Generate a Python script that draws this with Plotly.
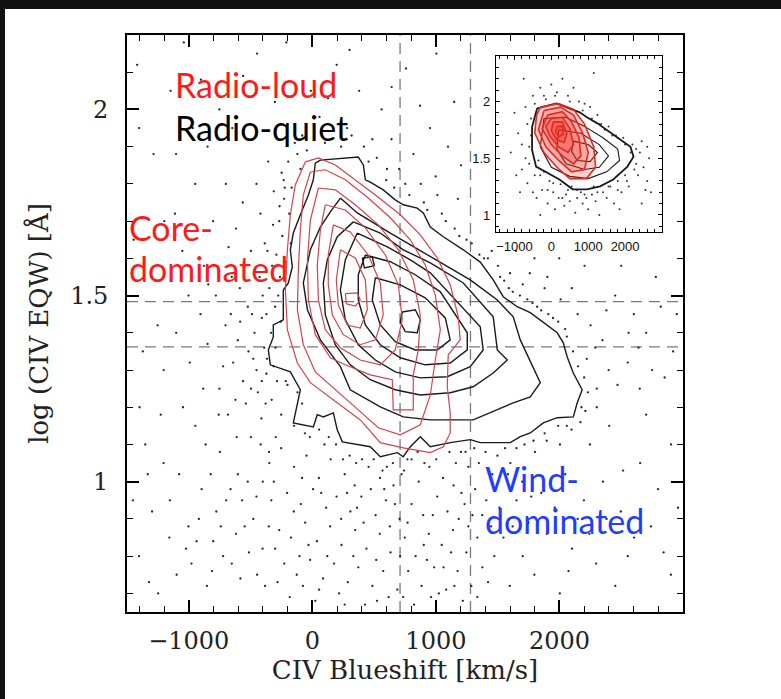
import plotly.graph_objects as go

# ---------------- axes / reference lines ----------------
x_range = [-1500, 3000]
y_range = [0.65, 2.2]
x_tick_vals = [-1000, 0, 1000, 2000]
y_tick_vals = [1, 1.5, 2]
y_tick_text = ["1", "1.5", "2"]
vline_x = [710, 1280]
hline_y = [1.484, 1.362]

inset_x_range = [-1500, 3000]
inset_y_range = [0.85, 2.4]
inset_x_ticks = [-1000, 0, 1000, 2000]
inset_y_ticks = [1, 1.5, 2]
inset_y_text = ["1", "1.5", "2"]

# ---------------- radio-quiet (black) contours ----------------
rq_level1 = [(24,1.856),(65,1.864),(372,1.872),(413,1.851),(429,1.811),(469,1.805),(574,1.784),
             (671,1.757),(736,1.744),(849,1.735),(898,1.722),(955,1.684),(1060,1.658),(1222,1.623),
             (1359,1.590),(1464,1.542),(1545,1.497),(1658,1.470),(1764,1.454),(1869,1.427),(1982,1.400),
             (2031,1.373),(2063,1.335),(2112,1.292),(2184,1.247),(2144,1.212),(2112,1.174),(1982,1.172),
             (1869,1.158),(1764,1.131),(1683,1.121),(1602,1.105),(1359,1.105),(1278,1.113),(1116,1.105),
             (955,1.094),(874,1.121),(793,1.094),(736,1.067),(688,1.078),(550,1.067),(469,1.094),
             (243,1.107),(202,1.139),(170,1.185),(89,1.174),(40,1.180),(8,1.147),(-154,1.158),
             (-97,1.247),(-178,1.295),(-340,1.314),(-356,1.354),(-316,1.389),(-316,1.421),(-235,1.435),
             (-235,1.515),(-194,1.534),(-162,1.577),(-178,1.623),(-154,1.668),(-97,1.717),(-32,1.770),
             (8,1.811)]
rq_level2 = [(227,1.762),(364,1.722),(631,1.668),(955,1.604),(1278,1.542),(1497,1.488),(1626,1.443),
             (1683,1.381),(1845,1.266),(1764,1.228),(1626,1.212),(1302,1.166),(955,1.166),(736,1.174),
             (550,1.201),(307,1.247),(227,1.309),(65,1.381),(-40,1.462),(-73,1.534),(-16,1.623),
             (65,1.684),(146,1.725)]
rq_level3 = [(332,1.698),(550,1.668),(736,1.623),(955,1.588),(1222,1.534),(1464,1.443),(1497,1.354),
             (1578,1.327),(1464,1.292),(1302,1.255),(1116,1.239),(874,1.233),(671,1.247),(469,1.274),
             (307,1.314),(186,1.368),(105,1.448),(89,1.534),(121,1.596),(202,1.658)]
rq_level4 = [(364,1.668),(607,1.631),(793,1.596),(955,1.561),(1359,1.416),(1383,1.354),(1278,1.309),
             (1092,1.282),(874,1.279),(671,1.295),(510,1.327),(372,1.368),(267,1.435),(227,1.515),
             (267,1.596)]
rq_level5 = [(429,1.609),(631,1.591),(833,1.556),(1036,1.510),(1254,1.400),(1254,1.354),(1116,1.319),
             (914,1.314),(712,1.333),(550,1.368),(429,1.421),(372,1.488),(372,1.556)]
rq_level6 = [(510,1.548),(712,1.529),(914,1.494),(1076,1.440),(1116,1.381),(1011,1.354),(833,1.354),
             (671,1.376),(550,1.421),(485,1.488)]
rq_level7 = [(728,1.456),(833,1.462),(874,1.435),(849,1.400),(752,1.403),(712,1.429)]
rq_level7b = [(405,1.601),(485,1.604),(502,1.580),(421,1.574)]

# ---------------- radio-loud (red) contours ----------------
rl_level1 = [(-57,1.859),(49,1.870),(186,1.851),(348,1.811),(510,1.770),(712,1.717),(874,1.663),
             (1011,1.601),(1116,1.529),(1181,1.443),(1197,1.381),(1100,1.341),(1092,1.255),(1116,1.185),
             (1116,1.131),(1060,1.094),(955,1.078),(736,1.091),(550,1.105),(388,1.166),(202,1.212),
             (-16,1.266),(-121,1.319),(-202,1.408),(-218,1.515),(-202,1.623),(-178,1.717),(-138,1.797)]
rl_level2 = [(-16,1.832),(105,1.838),(267,1.811),(453,1.762),(631,1.709),(793,1.650),(914,1.582),
             (995,1.502),(1036,1.408),(995,1.327),(955,1.233),(874,1.153),(712,1.126),(534,1.145),
             (372,1.193),(186,1.247),(24,1.295),(-73,1.368),(-121,1.462),(-113,1.569),(-97,1.676),
             (-73,1.770)]
rl_level3 = [(49,1.789),(186,1.784),(348,1.744),(534,1.690),(696,1.623),(817,1.542),(874,1.448),
             (858,1.354),(817,1.287),(817,1.193),(655,1.193),(647,1.274),(469,1.287),(267,1.314),
             (146,1.333),(24,1.395),(-32,1.488),(-40,1.596),(-16,1.703)]
rl_level4 = [(105,1.744),(267,1.730),(429,1.682),(591,1.609),(696,1.529),(728,1.435),(671,1.354),
             (550,1.314),(388,1.327),(227,1.360),(105,1.408),(49,1.488),(40,1.582),(65,1.676)]
rl_level5 = [(170,1.690),(307,1.671),(453,1.609),(550,1.534),(574,1.448),(510,1.381),(388,1.368),
             (251,1.395),(162,1.448),(129,1.529),(129,1.609)]
rl_level6 = [(227,1.623),(348,1.601),(429,1.542),(445,1.462),(388,1.413),(283,1.421),(210,1.475),
             (194,1.542)]
rl_level7 = [(267,1.505),(364,1.507),(388,1.488),(348,1.472),(275,1.478)]

# ---------------- individual objects (dots) ----------------
dot_points = [
    (-420,1.72),(-385,1.64),(-312,1.78),(-248,1.83),(-463,1.57),(-348,1.52),(-291,1.61),(-522,1.47),
    (-408,1.44),(-334,1.40),(-603,1.38),(-478,1.33),(-372,1.29),(-441,1.24),(-561,1.27),(-652,1.55),
    (-703,1.42),(-228,1.76),(-195,1.86),(-142,1.91),(-389,1.36),(-268,1.70),(-497,1.62),(-618,1.68),
    (-722,1.31),(-538,1.21),(-412,1.17),(-329,1.22),(-781,1.50),(-848,1.37),(-301,1.47),(-262,1.55),
    (-468,1.40),(-587,1.52),(-678,1.63),(-357,1.86),(-452,1.80),(-563,1.75),(-243,1.66),(-326,1.58),
    (-402,1.50),(-517,1.35),(-622,1.22),(-758,1.18),(-905,1.45),
    (-252,1.18),(-148,1.15),(-83,1.21),(-201,1.26),(-296,1.12),(-60,1.13),(-120,1.24),(-350,1.08),
    (-223,1.79),(-187,1.72),(-265,1.74),(-174,1.64),(-213,1.59),(-276,1.50),(-255,1.43),(-298,1.36),
    (-367,1.33),(-409,1.27),(-232,1.81),(-121,1.88),(-96,1.84),(-167,1.79),(-318,1.69),(-363,1.62),
    (-427,1.55),(-371,1.45),(-313,1.31),(-452,1.30),(-488,1.45),(-545,1.58),(-584,1.43),(-641,1.32),
    (-496,1.25),(-378,1.21),(-286,1.27),(-215,1.27),
    (-82,1.93),(58,1.98),(153,1.92),(281,1.95),(417,1.90),(522,1.87),(641,1.92),(703,1.84),
    (818,1.88),(952,1.95),(1098,1.90),(1203,1.85),(-303,2.02),(-648,1.95),(-902,2.08),(379,2.05),
    (758,2.11),(1004,2.15),(197,2.12),(-447,2.15),(1148,2.02),(561,2.00),(878,1.80),(1012,1.77),
    (-1103,1.88),
    (-45,1.89),(102,1.91),(233,1.90),(318,1.93),(455,1.86),(598,1.81),(662,1.79),(785,1.77),
    (930,1.73),(1080,1.70),(1190,1.66),(1290,1.64),(486,1.92),(-12,2.05),(127,2.03),(642,2.06),
    (301,2.16),(872,2.01),(-560,2.09),(-210,2.18),
    (604,1.84),(752,1.80),(903,1.75),(1048,1.72),(1152,1.68),(1248,1.65),(998,1.82),(1178,1.76),
    (1352,1.61),(1421,1.60),(1502,1.58),(1553,1.54),(1622,1.51),(1703,1.53),(1781,1.48),(1852,1.46),
    (1948,1.44),(2046,1.41),(2147,1.45),(2252,1.42),(2348,1.38),(2451,1.50),(2602,1.45),(1902,1.55),
    (1998,1.60),(2203,1.58),(1798,1.60),(1648,1.62),(1452,1.62),(2398,1.30),(2302,1.25),(2221,1.33),
    (2178,1.20),(2553,1.32),(2702,1.40),(2851,1.28),(1600,1.56),(2100,1.52),(2500,1.58),(2780,1.55),
    (2950,1.45),(2650,1.25),
    (1390,1.60),(1520,1.55),(1590,1.52),(1680,1.50),(1740,1.49),(1820,1.47),(1910,1.45),(1990,1.43),
    (2060,1.39),(2110,1.35),(2150,1.31),(2200,1.28),(2230,1.24),(2210,1.19),(2170,1.16),(1760,1.56),
    (1880,1.52),(2010,1.49),(2290,1.36),(2380,1.46),(2470,1.26),(2560,1.40),(2640,1.36),(2750,1.30),
    (2820,1.47),(2920,1.35),
    (1603,1.05),(1698,1.00),(1802,1.08),(1897,1.11),(2004,1.10),(2098,1.14),(2247,1.10),(2403,1.15),
    (1652,0.95),(1748,0.89),(1853,0.97),(2047,1.02),(2198,0.95),(2352,1.00),(2497,0.92),(2653,1.05),
    (2798,0.98),(1547,0.85),(1703,0.80),(1898,0.86),(2102,0.82),(2297,0.78),(2604,0.85),(2902,0.75),
    (1598,0.72),(1797,0.75),(2003,0.70),(2452,0.72),(2302,1.20),(2702,1.18),(2903,1.10),(1503,1.00),
    (2147,0.90),(2553,0.80),
    (-252,1.09),(-148,1.04),(-47,1.07),(53,1.01),(148,1.06),(262,1.02),(343,0.99),(455,1.04),
    (548,1.01),(657,0.99),(742,1.03),(861,1.00),(947,1.04),(1058,1.01),(1143,0.99),(1262,1.04),
    (1348,1.05),(1457,1.02),(-204,0.97),(-93,0.94),(6,0.98),(112,0.93),(196,0.96),(308,0.92),
    (397,0.96),(512,0.91),(596,0.95),(706,0.90),(803,0.94),(897,0.91),(1011,0.96),(1094,0.92),
    (1207,0.97),(1296,0.91),(1408,0.95),(-268,0.87),(-173,0.85),(-58,0.89),(37,0.84),(144,0.88),
    (236,0.83),(347,0.87),(438,0.82),(546,0.86),(633,0.81),(748,0.85),(836,0.80),(943,0.86),
    (1047,0.83),(1138,0.87),(1247,0.81),(1336,0.85),(1446,0.88),(-227,0.78),(-126,0.75),(-18,0.79),
    (87,0.74),(176,0.78),(287,0.73),(372,0.77),(486,0.72),(574,0.76),(688,0.71),(776,0.76),
    (884,0.72),(986,0.77),(1083,0.71),(1176,0.76),(1287,0.72),(1376,0.77),(-183,0.69),(24,0.68),
    (217,0.70),(426,0.67),(617,0.69),(823,0.67),(1024,0.70),(1218,0.68),
    (98,1.10),(302,1.07),(603,1.04),(907,1.05),(1203,1.08),(1498,1.07),(1652,1.09),(402,1.06),(803,1.06),
    (-20,1.12),(55,1.14),(133,1.12),(192,1.10),(248,1.06),(355,1.05),(497,1.06),(568,1.03),
    (652,1.05),(722,1.02),(770,1.06),(852,1.08),(1003,1.06),(1110,1.08),(1162,1.05),(1240,1.08),
    (1310,1.09),(1402,1.08),(1560,1.09),(1717,1.10),(1790,1.11),(1880,1.13),(1990,1.15),(2060,1.15),
    (-312,1.00),(-83,1.01),(72,0.97),(233,0.90),(281,0.97),(415,0.89),(473,0.98),(627,0.88),
    (668,0.94),(771,0.89),(927,0.79),(975,0.91),(1123,0.81),(1185,0.90),(1318,0.98),(1375,0.91),
    (1473,0.80),(-31,0.83),(-104,0.80),(121,0.80),(332,0.80),(517,0.79),(711,0.80),(902,0.83),
    (1062,0.77),(1263,0.88),(1422,0.73),(55,0.71),(262,0.67),(523,0.68),(735,0.69),(961,0.69),
    (1150,0.72),(1335,0.69),(-282,0.73),(-76,0.72),(-150,0.92),(362,0.93),(582,0.98),(1232,0.94),
    (1515,0.93),(1583,1.02),(1621,0.88),(1772,0.96),(1962,0.93),(2073,0.76),(2242,0.86),(2381,0.90),
    (2515,1.03),(2741,0.88),(2843,0.81),(2960,0.93),
    (-1403,0.80),(-1297,0.92),(-1204,1.05),(-1098,0.75),(-1003,0.88),(-947,1.15),(-896,0.98),(-853,0.72),
    (-802,0.84),(-748,1.08),(-697,0.95),(-652,0.78),(-603,1.02),(-548,0.88),(-497,1.12),(-452,0.96),
    (-403,0.82),(-348,1.05),(-1352,1.10),(-1248,0.70),(-1153,0.95),(-1047,1.20),(-978,0.78),(-883,1.25),
    (-777,0.92),(-683,1.18),(-582,0.74),(-478,0.90),(-383,0.72),(-332,0.95),(-618,0.86),(-722,0.80),
    (-822,1.02),(-918,0.90),(-1022,0.82),(-523,1.00),(-418,1.10),(-1203,1.30),(-1398,1.20),(-1102,1.40),
    (-1303,1.55),(-1198,1.70),(-1052,1.62),(-948,1.80),(-1402,1.95),(-1147,2.05),(-803,1.70),(-1002,1.50),
    (-878,1.58),(-1252,1.42),(-1447,1.65),(-752,2.00),
    (-1452,0.95),(-1372,1.35),(-1322,0.73),(-1157,0.85),(-1078,1.02),(-992,1.32),(-937,0.84),(-863,1.10),
    (-812,0.76),(-741,0.88),(-662,0.98),(-612,1.12),(-568,0.95),(-513,0.81),(-447,0.75),(-401,1.00),
    (-352,0.88),(-301,0.82),(-660,1.45),(-752,1.25),(-842,1.53),(-1227,1.18),(-1332,1.02),(-1112,1.72),
    (-967,1.95),(-1285,1.88),(-1418,2.12),(-1040,2.18),(-848,1.90),(-700,1.80),
]

# ---------------- inset panel ----------------
inset_rq_contours = [
    [(-385,1.939),(138,1.983),(770,1.904),(963,1.861),(1238,1.809),(1513,1.748),(1870,1.661),(2145,1.600),
     (2228,1.513),(2063,1.426),(1678,1.313),(1320,1.252),(963,1.226),(578,1.226),(220,1.313),(-138,1.374),
     (-413,1.426),(-523,1.574),(-523,1.774)],
    [(-200,1.85),(400,1.86),(900,1.78),(1400,1.68),(1800,1.58),(1850,1.48),(1500,1.38),(1000,1.32),
     (500,1.34),(0,1.42),(-300,1.60)],
    [(200,1.75),(800,1.72),(1300,1.62),(1550,1.52),(1300,1.42),(900,1.40),(400,1.45),(150,1.58)],
    [(600,1.65),(1000,1.62),(1250,1.55),(1050,1.47),(700,1.48),(550,1.56)],
]
inset_rl_contours = [
    [(-300,1.95),(200,1.98),(600,1.93),(900,1.80),(1150,1.60),(1200,1.42),(950,1.32),(500,1.32),
     (150,1.42),(-200,1.55),(-450,1.72),(-400,1.88)],
    [(-200,1.92),(250,1.95),(600,1.88),(850,1.72),(1000,1.55),(900,1.40),(550,1.38),(200,1.48),
     (-150,1.60),(-350,1.75)],
    [(-100,1.88),(300,1.91),(550,1.82),(750,1.68),(800,1.52),(600,1.45),(300,1.52),(0,1.62),(-250,1.76)],
    [(0,1.85),(300,1.86),(500,1.76),(600,1.62),(450,1.55),(200,1.60),(-50,1.70),(-150,1.78)],
    [(50,1.82),(300,1.82),(420,1.72),(350,1.64),(150,1.66),(0,1.74)],
    [(150,1.78),(300,1.78),(330,1.71),(200,1.69),(120,1.73)],
]
inset_dot_points = [
    (-1100,1.55),(-900,1.72),(-800,1.40),(-700,1.95),(-650,1.28),(-600,1.60),(-550,1.85),(-500,2.05),
    (-450,1.35),(-400,1.15),(-350,1.48),(-300,2.12),(-250,1.22),(-200,1.38),(-150,2.02),(-100,1.10),
    (-50,1.30),(0,2.15),(50,1.20),(100,1.05),(150,2.08),(200,1.15),(250,1.27),(300,2.20),(350,1.08),
    (400,1.18),(450,2.05),(500,1.12),(550,1.25),(600,2.12),(650,1.02),(700,1.15),(750,2.00),(800,1.20),
    (850,1.10),(900,1.98),(950,1.15),(1000,1.05),(1050,1.95),(1100,1.18),(1200,1.12),(1250,1.88),
    (1300,1.00),(1350,1.80),(1400,1.20),(1500,1.15),(1550,1.78),(1600,1.25),(1700,1.10),(1750,1.70),
    (1800,1.30),(1900,1.20),(1950,1.68),(2000,1.35),(2100,1.25),(2200,1.62),(2300,1.45),(2350,1.35),
    (2400,1.55),(2500,1.42),(2600,1.30),(2650,1.50),(2700,1.20),(-850,1.20),(-1000,1.90),(-750,2.20),
    (1150,2.25),(2450,1.10),(1850,1.05),(-300,1.00),
    (-650,1.80),(-600,1.45),(-450,1.98),(-550,1.70),(-300,1.35),(-100,1.22),(50,1.28),(300,1.15),
    (450,1.22),(700,1.22),(900,1.18),(1150,1.25),(1300,1.80),(1450,1.75),(1650,1.70),(1800,1.68),
    (2000,1.62),(2150,1.55),(2300,1.58),(2250,1.40),(2050,1.30),(1800,1.22),(1550,1.25),(1250,1.20),
    (-200,2.05),(100,2.05),(500,2.00),(850,1.92),(1100,1.85),(-800,1.62),(-700,1.50),(-500,1.20),
    (2450,1.65),(2550,1.22),(2600,1.60),(-950,1.35),
]

# ---------------- figure ----------------
fig = go.Figure()

def closed(pts):
    pts = list(pts) + [pts[0]]
    return [p[0] for p in pts], [p[1] for p in pts]

fig.add_trace(go.Scatter(x=[p[0] for p in dot_points], y=[p[1] for p in dot_points],
                         mode="markers", marker=dict(size=2.3, color="#262626"),
                         hoverinfo="skip", showlegend=False))

for c in [rq_level1, rq_level2, rq_level3, rq_level4, rq_level5, rq_level6, rq_level7, rq_level7b]:
    cx, cy = closed(c)
    fig.add_trace(go.Scatter(x=cx, y=cy, mode="lines", line=dict(color="#1a1a1a", width=1.4),
                             hoverinfo="skip", showlegend=False))

for c in [rl_level1, rl_level2, rl_level3, rl_level4, rl_level5, rl_level6, rl_level7]:
    cx, cy = closed(c)
    fig.add_trace(go.Scatter(x=cx, y=cy, mode="lines", line=dict(color="#d4434a", width=1.2),
                             hoverinfo="skip", showlegend=False))

# inset traces
fig.add_trace(go.Scatter(x=[p[0] for p in inset_dot_points], y=[p[1] for p in inset_dot_points],
                         xaxis="x2", yaxis="y2", mode="markers",
                         marker=dict(size=2, color="#333"), hoverinfo="skip", showlegend=False))
for i, c in enumerate(inset_rq_contours):
    cx, cy = closed(c)
    fig.add_trace(go.Scatter(x=cx, y=cy, xaxis="x2", yaxis="y2", mode="lines",
                             line=dict(color="#1a1a1a", width=1.8 if i == 0 else 1.1),
                             hoverinfo="skip", showlegend=False))
for c in inset_rl_contours:
    cx, cy = closed(c)
    fig.add_trace(go.Scatter(x=cx, y=cy, xaxis="x2", yaxis="y2", mode="lines",
                             fill="toself", fillcolor="rgba(235,40,30,0.22)",
                             line=dict(color="#e8271e", width=1.6),
                             hoverinfo="skip", showlegend=False))

shapes = []
for xv in vline_x:
    shapes.append(dict(type="line", xref="x", yref="paper", x0=xv, x1=xv, y0=0, y1=1,
                       line=dict(color="#7a7a7a", width=1.3, dash="11px,7px"), layer="below"))
for yv in hline_y:
    shapes.append(dict(type="line", xref="paper", yref="y", x0=0, x1=1, y0=yv, y1=yv,
                       line=dict(color="#7a7a7a", width=1.3, dash="11px,7px"), layer="below"))
# dark screenshot border (top and left)
shapes.append(dict(type="rect", xref="paper", yref="paper", x0=-0.2290, x1=-0.2194, y0=-0.16, y1=1.07,
                   line=dict(width=0), fillcolor="#111111", layer="above"))
shapes.append(dict(type="rect", xref="paper", yref="paper", x0=-0.2290, x1=1.18, y0=1.0451, y1=1.07,
                   line=dict(width=0), fillcolor="#111111", layer="above"))

serif = "DejaVu Serif"
sans = "Lato"
annotations = [
    dict(text="Radio-loud", x=0.0827, y=0.915, font=dict(color="#ff1a1a")),
    dict(text="Radio-quiet", x=0.0827, y=0.839, font=dict(color="#000000")),
    dict(text="Core-", x=0.0005, y=0.667, font=dict(color="#ff1a1a")),
    dict(text="dominated", x=0.0005, y=0.596, font=dict(color="#ff1a1a")),
    dict(text="Wind-", x=0.640, y=0.232, font=dict(color="#1f3dff")),
    dict(text="dominated", x=0.640, y=0.159, font=dict(color="#1f3dff")),
]
for a in annotations:
    a.update(xref="paper", yref="paper", xanchor="left", yanchor="middle", showarrow=False)
    a["font"].update(family=sans, size=34)

axis_common = dict(showgrid=False, zeroline=False, showline=True, linecolor="black",
                   mirror="allticks", ticks="inside", tickcolor="black")

fig.update_layout(
    width=781, height=699, autosize=False,
    margin=dict(l=127, r=98, t=35, b=87),
    paper_bgcolor="white", plot_bgcolor="white",
    shapes=shapes, annotations=annotations,
    xaxis=dict(range=x_range, tickmode="array", tickvals=x_tick_vals,
               ticklen=12, tickwidth=1.5, linewidth=1.8,
               minor=dict(tickmode="linear", tick0=0, dtick=200, ticklen=6, tickwidth=1.2,
                          ticks="inside", tickcolor="black"),
               tickfont=dict(family=serif, size=24, color="#222"), ticklabelstandoff=6,
               title=dict(text="CIV Blueshift [km/s]", font=dict(family=serif, size=26, color="#222"),
                          standoff=6),
               **axis_common),
    yaxis=dict(range=y_range, tickmode="array", tickvals=y_tick_vals, ticktext=y_tick_text,
               ticklen=12, tickwidth=1.5, linewidth=1.8,
               minor=dict(tickmode="linear", tick0=0, dtick=0.1, ticklen=6, tickwidth=1.2,
                          ticks="inside", tickcolor="black"),
               tickfont=dict(family=serif, size=24, color="#222"), ticklabelstandoff=12,
               title=dict(text="log (CIV EQW) [Å]", font=dict(family=serif, size=26, color="#222"),
                          standoff=14),
               **axis_common),
    xaxis2=dict(domain=[0.6637, 0.9622], anchor="y2", range=inset_x_range, tickmode="array",
                tickvals=inset_x_ticks, ticklen=4, tickwidth=1, linewidth=1.2,
                minor=dict(tickmode="linear", tick0=0, dtick=200, ticklen=3, ticks="inside",
                           tickcolor="black"),
                tickfont=dict(family="Liberation Sans", size=13, color="#111"), ticklabelstandoff=2,
                **axis_common),
    yaxis2=dict(domain=[0.6586, 0.9636], anchor="x2", range=inset_y_range, tickmode="array",
                tickvals=inset_y_ticks, ticktext=inset_y_text, ticklen=4, tickwidth=1, linewidth=1.2,
                minor=dict(tickmode="linear", tick0=0, dtick=0.1, ticklen=3, ticks="inside",
                           tickcolor="black"),
                tickfont=dict(family="Liberation Sans", size=13, color="#111"), ticklabelstandoff=2,
                **axis_common),
)

fig.write_html("out.html")
